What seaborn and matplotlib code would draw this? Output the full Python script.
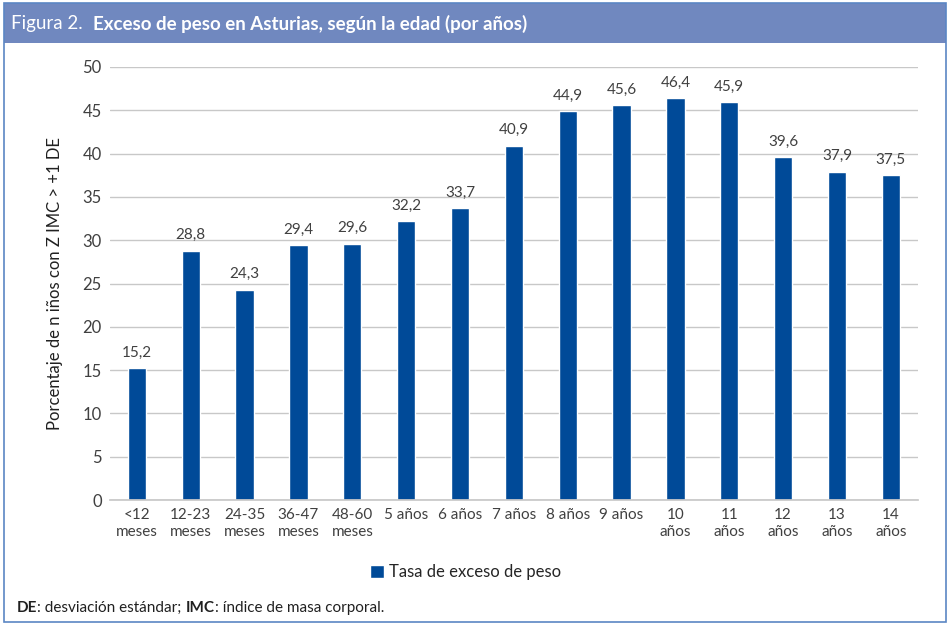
import matplotlib.pyplot as plt
import seaborn as sns
import pandas as pd
from matplotlib.patches import Rectangle

# Data
categorias = ['<12\nmeses', '12-23\nmeses', '24-35\nmeses', '36-47\nmeses', '48-60\nmeses',
              '5 años', '6 años', '7 años', '8 años', '9 años',
              '10\naños', '11\naños', '12\naños', '13\naños', '14\naños']
tasa = [15.2, 28.8, 24.3, 29.4, 29.6, 32.2, 33.7, 40.9, 44.9, 45.6, 46.4, 45.9, 39.6, 37.9, 37.5]
etiquetas = ['15,2', '28,8', '24,3', '29,4', '29,6', '32,2', '33,7', '40,9', '44,9', '45,6',
             '46,4', '45,9', '39,6', '37,9', '37,5']
y_ticks = [0, 5, 10, 15, 20, 25, 30, 35, 40, 45, 50]

sns.set_theme(style='white')
plt.rcParams['font.family'] = ['Lato', 'DejaVu Sans']

df = pd.DataFrame({'edad': categorias, 'tasa': tasa})

fig = plt.figure(figsize=(9.5, 6.29), dpi=100)
ax = fig.add_axes([0.1158, 0.205, 0.8502, 0.6885])

sns.barplot(data=df, x='edad', y='tasa', color='#004a98', width=0.34, saturation=1, ax=ax,
            label='Tasa de exceso de peso')

for i, (v, t) in enumerate(zip(tasa, etiquetas)):
    ax.text(i, v + 1.0, t, ha='center', va='bottom', fontsize=11, color='#404040')

ax.set_ylim(0, 50)
ax.set_xlim(-0.5, len(categorias) - 0.5)
ax.set_yticks(y_ticks)
ax.yaxis.grid(True, color='#c8c8c8', linewidth=1)
ax.set_axisbelow(True)
for s in ['top', 'right', 'left']:
    ax.spines[s].set_visible(False)
ax.spines['bottom'].set_color('#c8c8c8')
ax.tick_params(axis='both', length=0, labelsize=11, labelcolor='#404040', pad=6)
ax.tick_params(axis='y', labelsize=12)
ax.set_xlabel('')
ax.set_ylabel('Porcentaje de n iños con Z IMC > +1 DE', fontsize=12, color='#202020', labelpad=14)
if ax.legend_:
    ax.legend_.remove()

# legend below
fig.legend(*ax.get_legend_handles_labels(), loc='center', bbox_to_anchor=(0.49, 0.09),
           frameon=False, fontsize=12, handlelength=0.8, handleheight=0.8, handletextpad=0.3)

# header band and border
fig.patches.append(Rectangle((0.004, 0.932), 0.992, 0.064, transform=fig.transFigure,
                             facecolor='#7088bf', edgecolor='none', zorder=-1))
fig.patches.append(Rectangle((0.004, 0.011), 0.992, 0.985, transform=fig.transFigure,
                             facecolor='none', edgecolor='#5b86c4', linewidth=1.2, zorder=5))
t1 = fig.text(0.012, 0.962, 'Figura 2.  ', color='white', fontsize=13.5, va='center', ha='left')
ax.annotate('Exceso de peso en Asturias, según la edad (por años)', xy=(1, 0.5),
            xycoords=t1, va='center', ha='left', color='white', fontsize=13.5, fontweight='bold',
            annotation_clip=False, clip_on=False, zorder=10)

# footer
parts = [('DE', 'bold'), (': desviación estándar; ', 'normal'),
         ('IMC', 'bold'), (': índice de masa corporal.', 'normal')]
prev = fig.text(0.018, 0.033, parts[0][0], fontsize=11, fontweight=parts[0][1],
                color='#202020', va='center')
for txt, w in parts[1:]:
    prev = ax.annotate(txt, xy=(1, 0.5), xycoords=prev, va='center', ha='left',
                       fontsize=11, fontweight=w, color='#202020',
                       annotation_clip=False, clip_on=False)

fig.savefig('out.png', dpi=100)
